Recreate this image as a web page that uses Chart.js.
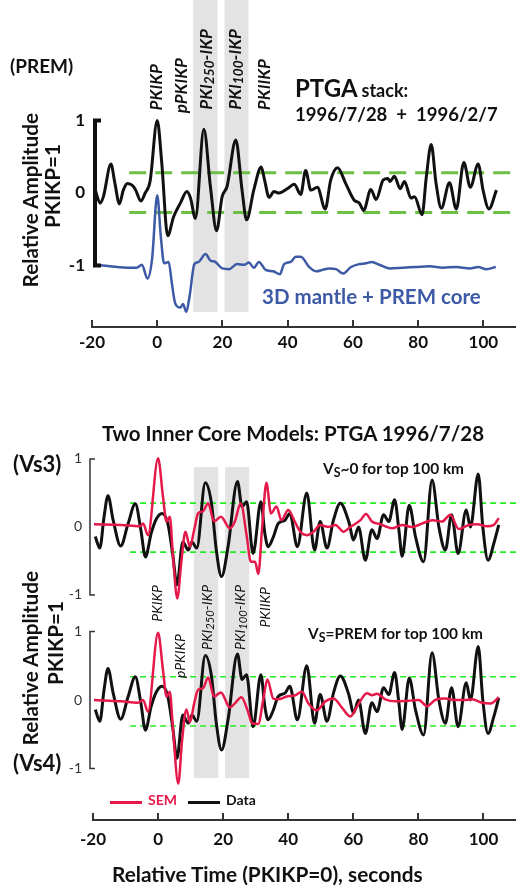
<!DOCTYPE html>
<html><head><meta charset="utf-8">
<script src="https://cdn.jsdelivr.net/npm/chart.js@4.4.0/dist/chart.umd.min.js"></script>
<style>
html,body{margin:0;padding:0;background:#fff;}
#wrap{position:relative;width:516px;height:890px;overflow:hidden;font-family:Lato,'Open Sans',sans-serif;color:#111;}
canvas{position:absolute;left:0;}
.t{position:absolute;white-space:nowrap;line-height:1;}
.v{position:absolute;white-space:nowrap;line-height:1;writing-mode:vertical-rl;transform:rotate(180deg);}
.b{font-weight:bold;}
.i{font-style:italic;}
sub{font-size:80%;vertical-align:-0.25em;}
</style></head><body>
<div id="wrap">
<canvas id="cTop" width="516" height="360" style="top:0"></canvas>
<canvas id="cVs3" width="516" height="173" style="top:440px"></canvas>
<canvas id="cVs4" width="516" height="277" style="top:613px"></canvas>

<div class="t b" style="left:10px;top:56px;font-size:19px;">(PREM)</div>
<div class="t b" style="left:295px;top:76px;"><span style="font-size:24px">PTGA</span> <span style="font-size:18px">stack:</span></div>
<div class="t b" style="left:295px;top:105px;font-size:18.5px;">1996/7/28&nbsp; +&nbsp; 1996/2/7</div>
<div class="t b" style="left:262px;top:286px;font-size:20.5px;color:#3d5aa6;">3D mantle + PREM core</div>

<div class="v b i" style="left:147px;bottom:780px;font-size:17px;">PKIKP</div>
<div class="v b i" style="left:172px;bottom:777px;font-size:17px;">pPKIKP</div>
<div class="v b i" style="left:197px;bottom:780px;font-size:17px;">PKI<sub>250</sub>-IKP</div>
<div class="v b i" style="left:226px;bottom:780px;font-size:17px;">PKI<sub>100</sub>-IKP</div>
<div class="v b i" style="left:255px;bottom:780px;font-size:17px;">PKIIKP</div>

<div class="v b" style="left:20px;bottom:603px;font-size:20.7px;">Relative Amplitude</div>
<div class="v b" style="left:42px;bottom:662px;font-size:20.7px;">PKIKP=1</div>

<div class="t b" style="left:102px;top:423px;font-size:20.5px;">Two Inner Core Models: PTGA 1996/7/28</div>
<div class="t b" style="left:13px;top:453px;font-size:22px;">(Vs3)</div>
<div class="t b" style="left:13px;top:752px;font-size:22px;">(Vs4)</div>
<div class="t b" style="left:323px;top:461px;font-size:15.4px;">V<sub>S</sub>~0 for top 100 km</div>
<div class="t b" style="left:308px;top:626px;font-size:15.4px;">V<sub>S</sub>=PREM for top 100 km</div>

<div class="v i" style="left:150px;bottom:268px;font-size:14px;">PKIKP</div>
<div class="v i" style="left:173px;bottom:212px;font-size:14px;">pPKIKP</div>
<div class="v i" style="left:200px;bottom:240px;font-size:14px;">PKI<sub>250</sub>-IKP</div>
<div class="v i" style="left:233px;bottom:240px;font-size:14px;">PKI<sub>100</sub>-IKP</div>
<div class="v i" style="left:258px;bottom:262px;font-size:14px;">PKIIKP</div>

<div class="v b" style="left:20px;bottom:145px;font-size:20.7px;">Relative Amplitude</div>
<div class="v b" style="left:45px;bottom:205px;font-size:20.7px;">PKIKP=1</div>

<div style="position:absolute;left:110px;top:801px;width:32px;height:3px;background:#e6194b;"></div>
<div class="t b" style="left:148px;top:793px;font-size:14px;color:#e6194b;">SEM</div>
<div style="position:absolute;left:188px;top:801px;width:32px;height:3px;background:#111;"></div>
<div class="t b" style="left:226px;top:793px;font-size:14px;">Data</div>

<div class="t b" style="left:112px;top:864px;font-size:20.8px;">Relative Time (PKIKP=0), seconds</div>
</div>

<script>
// ---------- DATA ----------
const xTicks = [-20, 0, 20, 40, 60, 80, 100];
const yTickValues = [-1, 0, 1];

// top panel: PTGA stack (black)
const stackTimes = [-19,-17.5,-16.5,-14.2,-13,-11.6,-10.4,-9.1,-7.5,-6.6,-5,-3.7,-2.2,0,1.4,3.2,5,7.1,9.1,10.2,11.7,14.3,16.3,18.2,19.9,21.4,24.1,26,27.4,29.6,31.9,32.9,34.3,35.8,37.3,39.9,42,44,45.5,47.1,49.1,51.5,53.2,55.3,57.8,60.4,62,63.3,65.5,67.1,69.3,70.7,71.4,72.7,74.5,75.8,77.8,78.9,81.2,82.5,84,85.5,87.1,89.6,91.7,94,96,98.4,99.9,101.7,104];
const stackValues = [0.04,-0.14,-0.05,0.40,0.14,-0.15,0.04,0.13,0.10,0.04,-0.11,0,0.16,1.0,0.41,-0.59,-0.33,-0.14,0.02,-0.07,-0.35,0.88,0.09,-0.52,-0.05,0.09,0.73,0.04,-0.37,0.04,0.36,0.18,-0.06,0.02,0.0,0.06,0.12,-0.02,0.31,0.04,0.08,-0.22,0.18,0.35,0.13,-0.10,-0.14,-0.24,0.05,-0.09,0.18,0.20,0.16,0.23,0.06,0.16,-0.07,-0.05,-0.30,0.22,0.67,0.13,-0.21,0.14,-0.22,0.42,0.08,0.40,0.04,-0.22,0.04];

// top panel: 3D mantle + PREM core synthetic (blue, drawn at the -1 level as in figure)
const mantleTimes = [-19,-14.5,-8.3,-6.3,-4.7,-3,-1.6,0,1.1,2.1,3.5,4.5,5.5,7.1,7.9,8.9,9.9,11.4,12.7,14.8,16.3,17.8,19.9,22,24.5,26.6,28.1,29.6,31.2,33.2,35.6,37.6,38.9,40.9,42.5,44,46.6,48.8,50.7,52.7,54.8,57,59.4,62,64,65.8,68.1,71.2,75.3,79.4,83.5,87.6,91.7,95.8,98.4,100.9,103.8];
const mantleValues = [-0.99,-1.01,-1.03,-1.03,-0.99,-1.18,-0.92,-0.03,-0.60,-0.97,-0.95,-1.25,-1.52,-1.58,-1.53,-1.64,-1.43,-0.98,-0.95,-0.84,-0.93,-0.95,-1.04,-1.05,-0.98,-0.99,-0.96,-1.03,-0.95,-1.06,-1.08,-1.12,-0.98,-0.95,-0.88,-0.88,-1.02,-1.08,-1.06,-1.04,-1.05,-1.11,-1.02,-0.98,-0.97,-0.95,-0.99,-1.04,-1.03,-1.02,-1.01,-1.03,-1.02,-1.04,-1.02,-1.05,-1.02];

// bottom panels: data PTGA 1996/7/28 (black)
const dataTimes = [-19.3,-17.9,-16.6,-15.4,-13.8,-11.5,-9.2,-7,-5.3,-3.9,-2.1,-0.5,1.2,3,4.5,5.8,7.6,9.3,10.4,11.9,14.5,16.4,17.9,19.5,21.5,24.4,25.8,27.2,29.2,31.6,32.8,33.8,35.4,36.9,39,40.5,42.8,45.7,48.1,49.8,51.9,53.9,56,58.6,60.1,61.6,63.7,65.7,67.3,69.3,70.9,72.7,74,75,77.2,79.1,81.6,84.2,86.3,88.3,90.2,92.2,94.7,96,98.4,99.8,101.4,103.2,104.7];
const dataValues = [-0.14,-0.31,0.15,0.46,0.10,-0.28,0.05,0.34,-0.04,-0.44,-0.09,0.12,0.2,0.05,-0.4,-0.85,-0.22,-0.34,-0.22,-0.31,0.65,0.35,-0.34,-0.73,-0.29,0.67,0.30,0.37,-0.39,0.37,-0.09,-0.29,-0.15,0.05,0.10,0.20,-0.29,0.50,-0.34,0.08,-0.31,0.10,0.35,0.08,-0.19,0.0,-0.49,-0.04,-0.17,0.18,0.08,0.40,-0.04,-0.43,0.32,-0.14,-0.51,0.69,0.0,-0.34,0.18,-0.39,0.25,0.0,0.78,0.0,-0.49,-0.24,0.03];

// SEM synthetics (red)
const semVs3Times = [-19.7,-11.3,-5.6,-4.6,-3.1,0,1.5,2.6,3.6,4.6,5.9,7.2,8.4,9.8,11.1,12.3,13.8,15.4,17.2,19.3,22.1,23.6,25.4,27.2,28.5,29.8,30.8,32,33.3,34.7,36.4,37.9,40,42.2,43.7,45.7,47.8,49.8,52.4,54.5,57,59.1,62.2,63.9,65.7,68.3,71.9,75,78,81.1,84.4,87.3,89.8,92.4,95.5,98.1,101.1,103.2,104.7];
const semVs3Values = [0.04,0.03,0.01,0.05,-0.12,1.01,0.45,0.08,0.15,-0.44,-1.05,-0.49,-0.07,-0.29,-0.04,0.20,0.23,0.35,0.08,0.15,-0.02,0.08,0.35,-0.12,-0.51,-0.51,-0.69,0,0.65,0.20,0.30,0.10,0.25,0.06,-0.07,-0.12,-0.07,0.03,0,0.03,-0.07,0,0.10,0.19,0.08,0.04,-0.02,0.03,0,0.05,0.10,0.08,0.18,-0.03,0.03,0.04,0.01,0.03,0.13];
const semVs4Times = [-19.7,-11.3,-6.2,-4.6,-3.1,0,1.5,2.6,3.6,4.6,6.2,7.4,8.7,9.8,11.1,12.3,13.8,15.4,17.2,19.3,22.1,23.6,25.6,27.5,28.9,30.8,32.3,33.6,35.4,36.9,39.5,42.2,44.2,46.2,48.8,51.4,53.9,56.5,59.1,61.1,64.2,65.7,67.3,69.8,72.9,77,80.1,82.7,85.2,88.3,90.9,93.9,96.5,99.6,102.2,104.7];
const semVs4Values = [0,-0.02,-0.04,0,-0.17,0.98,0.44,0.05,0.12,-0.44,-1.22,-0.58,-0.14,-0.32,-0.05,0.15,0.17,0.33,0.05,0.11,-0.11,-0.05,0.04,-0.15,-0.34,-0.35,0,0.30,0.02,0.01,0.05,0.07,0.12,-0.05,-0.15,-0.02,0.02,-0.11,-0.24,-0.10,0.10,0.07,0.09,0.01,-0.02,-0.01,0,-0.09,0,0.02,0,0,0.01,-0.04,-0.05,0.04];

// noise levels (green dashed) and phase windows (grey)
const noiseStart = -8.6, noiseEnd = 110;
const topNoise = [0.28, -0.27];
const vs3Noise = [0.35, -0.37];
const vs4Noise = [0.34, -0.38];
const windowStarts = [11, 20.6];
const windowEnds = [18.5, 28];

// ---------- HELPERS ----------
const pts = (ts, vs) => ts.map((t, i) => ({x: t, y: vs[i]}));
const FONT = 'Lato, "Open Sans", sans-serif';
const noPad = s => { s.paddingTop = 0; s.paddingBottom = 0; s.paddingLeft = 0; s.paddingRight = 0; };

const decor = {
  id: 'decor',
  beforeDatasetsDraw(chart, args, o) {
    const {ctx, chartArea: a, scales: {x, y}} = chart;
    if (o.bands) {
      ctx.save();
      ctx.fillStyle = '#e3e3e3';
      const y0 = o.bandTop == null ? a.top : y.getPixelForValue(o.bandTop);
      const y1 = o.bandBottom == null ? a.bottom : y.getPixelForValue(o.bandBottom);
      windowStarts.forEach((s, i) => {
        const x0 = x.getPixelForValue(s), x1 = x.getPixelForValue(windowEnds[i]);
        ctx.fillRect(x0, y0, x1 - x0, y1 - y0);
      });
      ctx.restore();
    }
  },
  afterDraw(chart, args, o) {
    const {ctx, chartArea: a, scales: {x, y}} = chart;
    if (o.bracket) {
      const b = o.bracket;
      const yt = y.getPixelForValue(1), yb = y.getPixelForValue(-1);
      const bx = a.left + b.dx;
      ctx.save();
      ctx.strokeStyle = b.color; ctx.lineWidth = b.width; ctx.lineJoin = 'miter';
      ctx.beginPath();
      ctx.moveTo(bx + b.tick, yt); ctx.lineTo(bx, yt); ctx.lineTo(bx, yb); ctx.lineTo(bx + b.tick, yb);
      ctx.stroke();
      ctx.restore();
    }
    if (o.xTickMarks) {
      ctx.save();
      ctx.strokeStyle = '#333'; ctx.lineWidth = 2;
      x.ticks.forEach(t => {
        const px = Math.round(x.getPixelForValue(t.value));
        ctx.beginPath(); ctx.moveTo(px, a.bottom); ctx.lineTo(px, a.bottom - 7); ctx.stroke();
      });
      ctx.restore();
    }
  }
};

function noiseSets(levels, color, width, dash) {
  return levels.map(l => ({
    data: [{x: noiseStart, y: l}, {x: noiseEnd, y: l}],
    borderColor: color, borderWidth: width, borderDash: dash,
    pointRadius: 0, order: 5
  }));
}

function makeChart(id, cfg) {
  const xScale = {
    type: 'linear', min: -20, max: 110, display: cfg.showX,
    grid: {display: false, drawTicks: false},
    border: {display: true, color: '#333', width: 2},
    ticks: {stepSize: 20, includeBounds: false, autoSkip: false, maxRotation: 0,
      padding: cfg.xPad || 5, color: '#111',
      font: {family: FONT, weight: 'bold', size: 17}},
    afterBuildTicks: s => { s.ticks = xTicks.map(v => ({value: v})); },
    afterFit: s => { s.height = cfg.xHeight || 0; noPad(s); }
  };
  const yScale = {
    type: 'linear', min: cfg.yMin, max: cfg.yMax, position: 'left',
    grid: {display: false, drawTicks: false},
    border: {display: false},
    ticks: {padding: cfg.yPad, color: cfg.yColor,
      font: {family: FONT, weight: cfg.yWeight, size: cfg.ySize}},
    afterBuildTicks: s => { s.ticks = yTickValues.map(v => ({value: v})); },
    afterFit: s => { s.width = cfg.yWidth; noPad(s); }
  };
  return new Chart(document.getElementById(id), {
    type: 'line',
    data: {datasets: cfg.datasets},
    options: {
      responsive: false, animation: false, devicePixelRatio: 1,
      layout: {padding: 0, autoPadding: false},
      scales: {x: xScale, y: yScale},
      plugins: {legend: {display: false}, tooltip: {enabled: false}, decor: cfg.decor},
      elements: {line: {cubicInterpolationMode: 'monotone', fill: false}, point: {radius: 0}}
    },
    plugins: [decor]
  });
}

// ---------- CHARTS ----------
makeChart('cTop', {
  showX: true, xHeight: 33, xPad: 5,
  yMin: -1.848, yMax: 2.662, yWidth: 92, yPad: 7, yColor: '#111', yWeight: 'bold', ySize: 17,
  decor: {bands: true, bandTop: null, bandBottom: -1.64,
          bracket: {dx: 3, tick: 6, width: 4, color: '#111'}, xTickMarks: true},
  datasets: [
    {data: pts(stackTimes, stackValues), borderColor: '#111', borderWidth: 3, order: 1},
    {data: pts(mantleTimes, mantleValues), borderColor: '#3d5aa6', borderWidth: 2.5, order: 2},
    ...noiseSets(topNoise, '#6cbf45', 3, [17, 9])
  ]
});

makeChart('cVs3', {
  showX: false, xHeight: 0,
  yMin: -1.265, yMax: 1.279, yWidth: 93, yPad: 11, yColor: '#333', yWeight: 'normal', ySize: 14,
  decor: {bands: true, bandTop: 0.88, bandBottom: null,
          bracket: {dx: -3, tick: 5, width: 1.5, color: '#333'}, xTickMarks: false},
  datasets: [
    {data: pts(semVs3Times, semVs3Values), borderColor: '#e6194b', borderWidth: 2.5, order: 1},
    {data: pts(dataTimes, dataValues), borderColor: '#111', borderWidth: 3, order: 2},
    ...noiseSets(vs3Noise, '#22ee22', 1.6, [6, 4])
  ]
});

makeChart('cVs4', {
  showX: true, xHeight: 70, xPad: 9,
  yMin: -1.752, yMax: 1.270, yWidth: 93, yPad: 11, yColor: '#333', yWeight: 'normal', ySize: 14,
  decor: {bands: true, bandTop: null, bandBottom: -1.14,
          bracket: {dx: -3, tick: 5, width: 1.5, color: '#333'}, xTickMarks: true},
  datasets: [
    {data: pts(semVs4Times, semVs4Values), borderColor: '#e6194b', borderWidth: 2.5, order: 1},
    {data: pts(dataTimes, dataValues), borderColor: '#111', borderWidth: 3, order: 2},
    ...noiseSets(vs4Noise, '#22ee22', 1.6, [6, 4])
  ]
});
</script>
</body></html>
